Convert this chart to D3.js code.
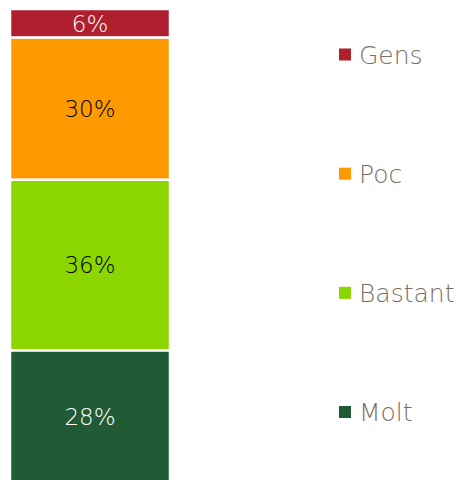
<!DOCTYPE html>
<html>
<head>
<meta charset="utf-8">
<script src="https://cdn.jsdelivr.net/npm/d3@7"></script>
<style>
  body { margin: 0; background: #fff; }
  svg { display: block; }
</style>
</head>
<body>
<svg id="chart" width="457" height="480"></svg>
<script>
// categories bottom to top
const categories = ["Molt", "Bastant", "Poc", "Gens"];
const values = [28, 36, 30, 6];
const colors = ["#215b35", "#8cd600", "#ff9900", "#b01f2e"];
const labelColors = ["#ffffff", "#000000", "#000000", "#ffffff"];
const legendOrder = ["Gens", "Poc", "Bastant", "Molt"];

const svg = d3.select("#chart");
const font = "'DejaVu Sans', sans-serif";

const x = d3.scaleBand().domain(["all"]).range([10, 170]).padding(0);
const y = d3.scaleLinear().domain([0, 100]).range([483, 9]);
const color = d3.scaleOrdinal().domain(categories).range(colors);

// build stacked rows
let acc = 0;
const rows = categories.map(function (c, i) {
  const r = { name: c, v: values[i], y0: acc, y1: acc + values[i], tc: labelColors[i] };
  acc += values[i];
  return r;
});

svg.selectAll("rect.seg").data(rows).enter().append("rect")
  .attr("class", "seg")
  .attr("x", x("all"))
  .attr("width", x.bandwidth())
  .attr("y", function (d) { return y(d.y1); })
  .attr("height", function (d) { return y(d.y0) - y(d.y1); })
  .attr("fill", function (d) { return color(d.name); })
  .attr("stroke", "#fff")
  .attr("stroke-width", 2.5);

svg.selectAll("text.lbl").data(rows).enter().append("text")
  .attr("class", "lbl")
  .attr("x", x("all") + x.bandwidth() / 2)
  .attr("y", function (d) { return (y(d.y0) + y(d.y1)) / 2; })
  .attr("dy", "0.36em")
  .attr("text-anchor", "middle")
  .attr("font-family", font)
  .attr("font-weight", 200)
  .attr("font-size", 23)
  .attr("fill", function (d) { return d.tc; })
  .text(function (d) { return d.v + "%"; });

// legend
const ly = d3.scalePoint().domain(legendOrder).range([54.5, 412]);
const leg = svg.selectAll("g.leg").data(legendOrder).enter().append("g")
  .attr("class", "leg")
  .attr("transform", function (d) { return "translate(339," + ly(d) + ")"; });

leg.append("rect")
  .attr("x", 0).attr("y", -6)
  .attr("width", 12).attr("height", 12)
  .attr("fill", function (d) { return color(d); });

leg.append("text")
  .attr("x", 20)
  .attr("dy", "0.36em")
  .attr("font-family", font)
  .attr("font-weight", 200)
  .attr("font-size", 25)
  .attr("fill", "#7a6e63")
  .text(function (d) { return d; });
</script>
</body>
</html>
